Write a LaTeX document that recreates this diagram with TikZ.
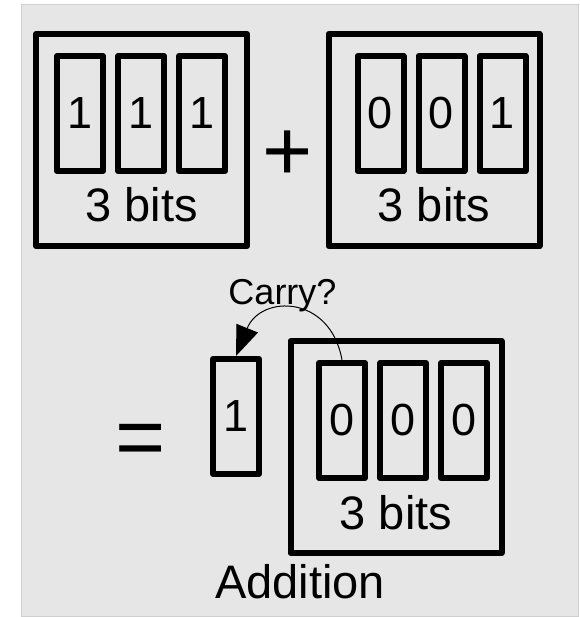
\documentclass[tikz,border=0pt]{standalone}
\usepackage{fontspec}
\setmainfont{Liberation Sans}
\usetikzlibrary{positioning,arrows.meta}
\definecolor{panel}{HTML}{E6E6E6}
\definecolor{panelrim}{HTML}{CFCFCF}

\begin{document}
\begin{tikzpicture}[x=1pt, y=1pt, node distance=9pt,
	register/.style={draw, line width=6pt, line join=round, inner sep=0pt,
		minimum width=211pt, minimum height=212pt},
	bit/.style={draw, line width=6pt, line join=round, inner sep=0pt,
		minimum width=46pt, minimum height=115pt, font=\fontsize{45}{45}\selectfont},
	regtext/.style={inner sep=0pt, anchor=base, font=\fontsize{47}{47}\selectfont},
	sym/.style={inner sep=0pt, anchor=base, font=\fontsize{86}{86}\selectfont}]
	
	\useasboundingbox (0,0) rectangle (579,617);
	\fill[panel, draw=panelrim, line width=1pt] (21,0) rectangle (578,612);
	
	% first operand
	\node[register] (A) at (141.5,477) {};
	\node[bit] (a2) at (141,503.5) {1};
	\node[bit, left=of a2] (a1) {1};
	\node[bit, right=of a2] (a3) {1};
	\node[regtext] (Asize) at (141.5,395) {3 bits};
	
	\node[sym] (plus) at (287.5,436) {+};
	
	% second operand
	\node[register] (B) at (434,477) {};
	\node[bit] (b2) at (441.5,503.5) {0};
	\node[bit, left=of b2] (b1) {0};
	\node[bit, right=of b2] (b3) {1};
	\node[regtext] (Bsize) at (434,395) {3 bits};
	
	\node[sym] (equals) at (141,150) {=};
	
	% result and the carry out
	\node[register] (C) at (396,170) {};
	\node[bit] (c2) at (403,196.5) {0};
	\node[bit, left=of c2] (c1) {0};
	\node[bit, right=of c2] (c3) {0};
	\node[regtext] (Csize) at (396,87) {3 bits};
	
	\node[bit] (carry) at (236,200.5) {1};
	\node[regtext, font=\fontsize{36}{36}\selectfont] (carrytext) at (282.5,312) {Carry?};
	
	\draw[line width=1pt, -{Triangle[length=30pt,width=23pt]}]
		(c1.north) to[out=100, in=68, looseness=1.6] (carry.north);
	
	\node[regtext] (title) at (300,18) {Addition};
	
\end{tikzpicture}
\end{document}
